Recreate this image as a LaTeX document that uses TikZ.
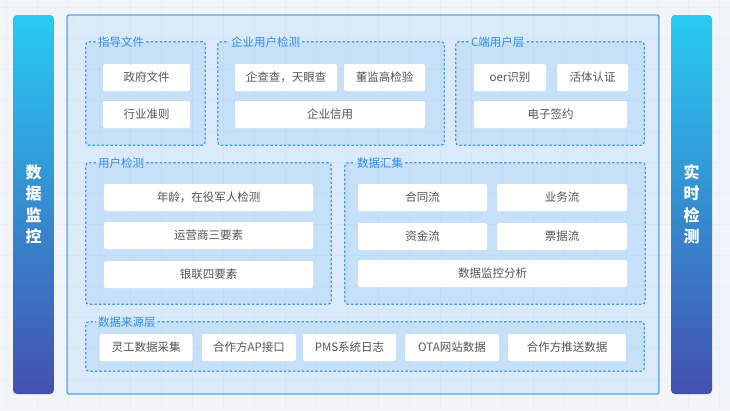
\documentclass[tikz,border=0pt]{standalone}
\usepackage{fontspec}
\setmainfont{Noto Sans CJK SC}
\usetikzlibrary{positioning}
\definecolor{pagebg}{HTML}{F1F4F9}
\definecolor{panelfill}{HTML}{DAEAFA}
\definecolor{paneldraw}{HTML}{4DA3FA}
\definecolor{grpfill}{HTML}{C5E0F8}
\definecolor{grpdraw}{HTML}{3C9BF5}
\definecolor{grptext}{HTML}{2D8CF0}
\definecolor{itemtext}{HTML}{555555}
\definecolor{bartop}{HTML}{27CBF2}
\definecolor{barbot}{HTML}{4350AF}
\tikzset{
  panel/.style={draw=paneldraw, fill=panelfill, line width=1.3pt, rounded corners=2pt, inner sep=0pt},
  sidebar/.style={top color=bartop, bottom color=barbot, draw=none, rounded corners=4pt, inner sep=0pt, minimum width=41pt, minimum height=379pt},
  bartext/.style={text=white, align=center, font=\fontsize{16}{21.5}\selectfont\bfseries},
  grpbox/.style={fill=grpfill, draw=none, rounded corners=3pt, inner sep=0pt},
  grpline/.style={draw=grpdraw, line width=1.2pt, dash pattern=on 2.5pt off 2pt, rounded corners=3pt},
  grptitle/.style={text=grptext, anchor=west, inner sep=2pt, font=\fontsize{11.5}{12}\selectfont},
  item/.style={fill=white, draw=none, rounded corners=2pt, inner sep=0pt, minimum height=27pt, text=itemtext, font=\fontsize{11.5}{12}\selectfont},
  gridline/.style={draw=black, opacity=0.018, line width=0.6pt},
}

\begin{document}
\begin{tikzpicture}[x=1pt,y=-1pt]
\useasboundingbox[fill=pagebg] (0,0) rectangle (730,410);

% main panel
\node[panel, minimum width=592pt, minimum height=379pt] (main) at (363,204.5) {};

% group areas
\node[grpbox, minimum width=119pt, minimum height=103pt] (zd) at (145.5,93.5) {};
\node[grpbox, minimum width=226pt, minimum height=103pt] (qy) at (331,93.5) {};
\node[grpbox, minimum width=188pt, minimum height=103pt] (cd) at (550,93.5) {};
\node[grpbox, minimum width=245pt, minimum height=141pt] (yh) at (208.5,233.5) {};
\node[grpbox, minimum width=300pt, minimum height=141pt] (hj) at (495,233.5) {};
\node[grpbox, minimum width=558pt, minimum height=49pt] (ly) at (365,346.5) {};

% faint grid
\foreach \gx in {6,37,...,730} \draw[gridline] (\gx,0) -- (\gx,410);
\foreach \gy in {7,38,...,410} \draw[gridline] (0,\gy) -- (730,\gy);

% group titles and dashed borders
\node[grptitle] (zdT) at ([xshift=10pt]zd.north west) {指导文件};
\draw[grpline] (zdT.east |- zd.north) -- (zd.north east) -- (zd.south east) -- (zd.south west) -- (zd.north west) -- (zdT.west |- zd.north);
\node[grptitle] (qyT) at ([xshift=11pt]qy.north west) {企业用户检测};
\draw[grpline] (qyT.east |- qy.north) -- (qy.north east) -- (qy.south east) -- (qy.south west) -- (qy.north west) -- (qyT.west |- qy.north);
\node[grptitle] (cdT) at ([xshift=13pt]cd.north west) {C端用户层};
\draw[grpline] (cdT.east |- cd.north) -- (cd.north east) -- (cd.south east) -- (cd.south west) -- (cd.north west) -- (cdT.west |- cd.north);
\node[grptitle] (yhT) at ([xshift=10pt]yh.north west) {用户检测};
\draw[grpline] (yhT.east |- yh.north) -- (yh.north east) -- (yh.south east) -- (yh.south west) -- (yh.north west) -- (yhT.west |- yh.north);
\node[grptitle] (hjT) at ([xshift=10pt]hj.north west) {数据汇集};
\draw[grpline] (hjT.east |- hj.north) -- (hj.north east) -- (hj.south east) -- (hj.south west) -- (hj.north west) -- (hjT.west |- hj.north);
\node[grptitle] (lyT) at ([xshift=10pt]ly.north west) {数据来源层};
\draw[grpline] (lyT.east |- ly.north) -- (ly.north east) -- (ly.south east) -- (ly.south west) -- (ly.north west) -- (lyT.west |- ly.north);

% 指导文件
\node[item, minimum width=87pt] (zf) at (146.5,77.5) {政府文件};
\node[item, minimum width=87pt] (hy) at (146.5,114.5) {行业准则};
% 企业用户检测
\node[item, minimum width=102pt] (qcc) at (286,77.5) {企查查，天眼查};
\node[item, minimum width=81pt] (djg) at (384.5,77.5) {董监高检验};
\node[item, minimum width=190pt] (qyxy) at (330,114.5) {企业信用};
% C端用户层
\node[item, minimum width=72pt] (ocr) at (510,77.5) {oer识别};
\node[item, minimum width=71pt] (htrz) at (592.5,77.5) {活体认证};
\node[item, minimum width=153pt] (dzqy) at (550.5,114.5) {电子签约};
% 用户检测
\node[item, minimum width=209pt] (nl) at (208.5,197.5) {年龄，在役军人检测};
\node[item, minimum width=209pt] (yys) at (208.5,235.5) {运营商三要素};
\node[item, minimum width=209pt] (yl) at (208.5,274.5) {银联四要素};
% 数据汇集
\node[item, minimum width=129pt] (htl) at (422.5,197.5) {合同流};
\node[item, minimum width=130pt] (ywl) at (562,197.5) {业务流};
\node[item, minimum width=129pt] (zjl) at (422.5,236.5) {资金流};
\node[item, minimum width=130pt] (pjl) at (562,236.5) {票据流};
\node[item, minimum width=269pt] (jkfx) at (492.5,273.5) {数据监控分析};
% 数据来源层
\node[item, minimum width=93pt] (lg) at (146,347.5) {灵工数据采集};
\node[item, minimum width=94pt] (api) at (249,347.5) {合作方AP接口};
\node[item, minimum width=93pt] (pms) at (349.5,347.5) {PMS系统日志};
\node[item, minimum width=94pt] (ota) at (452,347.5) {OTA网站数据};
\node[item, minimum width=118pt] (ts) at (567,347.5) {合作方推送数据};

% side bars
\node[sidebar] (jk) at (33.5,204.5) {};
\node[bartext] (jkT) at (jk) {数\\据\\监\\控};
\node[sidebar] (ss) at (691.5,204.5) {};
\node[bartext] (ssT) at (ss) {实\\时\\检\\测};
\end{tikzpicture}
\end{document}
